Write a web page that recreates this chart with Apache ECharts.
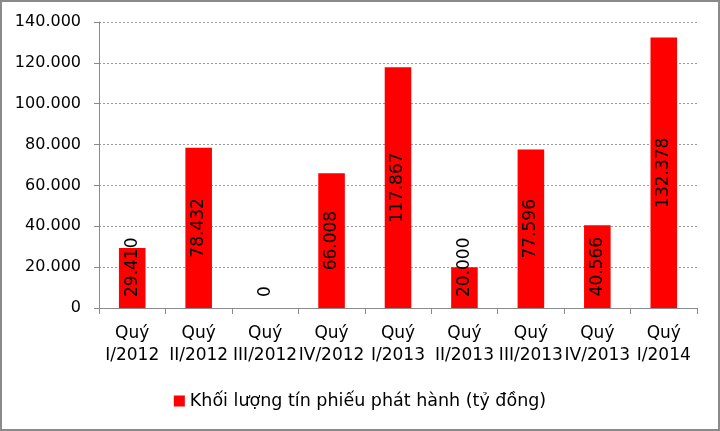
<!DOCTYPE html>
<html>
<head>
<meta charset="utf-8">
<script src="https://cdn.jsdelivr.net/npm/echarts@6/dist/echarts.min.js"></script>
<style>
	html, body { margin: 0; padding: 0; background: #fff; }
	#main { width: 720px; height: 431px; box-sizing: border-box; border: 2px solid #8a8a8a; }
</style>
</head>
<body>
<div id="main"></div>
<script type="text/javascript">
	// dữ liệu
	var categories = ['Quý\nI/2012', 'Quý\nII/2012', 'Quý\nIII/2012', 'Quý\nIV/2012', 'Quý\nI/2013',
		'Quý\nII/2013', 'Quý\nIII/2013', 'Quý\nIV/2013', 'Quý\nI/2014'];
	var values = [29410, 78432, 0, 66008, 117867, 20000, 77596, 40566, 132378];
	var seriesName = 'Khối lượng tín phiếu phát hành (tỷ đồng)';

	function fmt(v) {
		// 29410 -> 29.410
		return String(v).replace(/\B(?=(\d{3})+(?!\d))/g, '.');
	}

	var barData = values.map(function (v) {
		var item = { value: v };
		// cột thấp: nhãn đặt từ chân cột lên
		if (v < 35000) {
			item.label = { position: 'insideBottom', distance: 11, align: 'left', verticalAlign: 'middle' };
		}
		return item;
	});

	var myChart = echarts.init(document.getElementById('main'));
	var option = {
		animation: false,
		grid: { left: 97, right: 21, top: 20, bottom: 121 },
		legend: {
			bottom: 14,
			left: 'center',
			itemWidth: 11,
			itemHeight: 11,
			itemGap: 6,
			icon: 'rect',
			textStyle: { fontFamily: 'DejaVu Sans', fontSize: 17.5, color: '#000' },
			data: [seriesName]
		},
		xAxis: {
			type: 'category',
			data: categories,
			axisLine: { lineStyle: { color: '#8a8a8a' } },
			axisTick: { show: true, length: 6, lineStyle: { color: '#8a8a8a' } },
			axisLabel: {
				interval: 0,
				margin: 15,
				fontFamily: 'DejaVu Sans',
				fontSize: 17,
				lineHeight: 22,
				color: '#000'
			}
		},
		yAxis: {
			type: 'value',
			min: 0,
			max: 140000,
			interval: 20000,
			axisLine: { show: true, lineStyle: { color: '#8a8a8a' } },
			axisTick: { show: true, length: 5, lineStyle: { color: '#8a8a8a' } },
			splitLine: { lineStyle: { color: '#9a9a9a', type: [2, 2] } },
			axisLabel: {
				margin: 18,
				fontFamily: 'DejaVu Sans',
				fontSize: 16,
				color: '#000',
				formatter: function (v) { return fmt(v); }
			}
		},
		series: [{
			name: seriesName,
			type: 'bar',
			barWidth: '40%',
			itemStyle: { color: '#ff0000' },
			label: {
				show: true,
				position: 'inside',
				rotate: 90,
				fontFamily: 'DejaVu Sans',
				fontSize: 17,
				color: '#000',
				formatter: function (p) { return fmt(p.value); }
			},
			data: barData
		}]
	};
	myChart.setOption(option);
</script>
</body>
</html>
